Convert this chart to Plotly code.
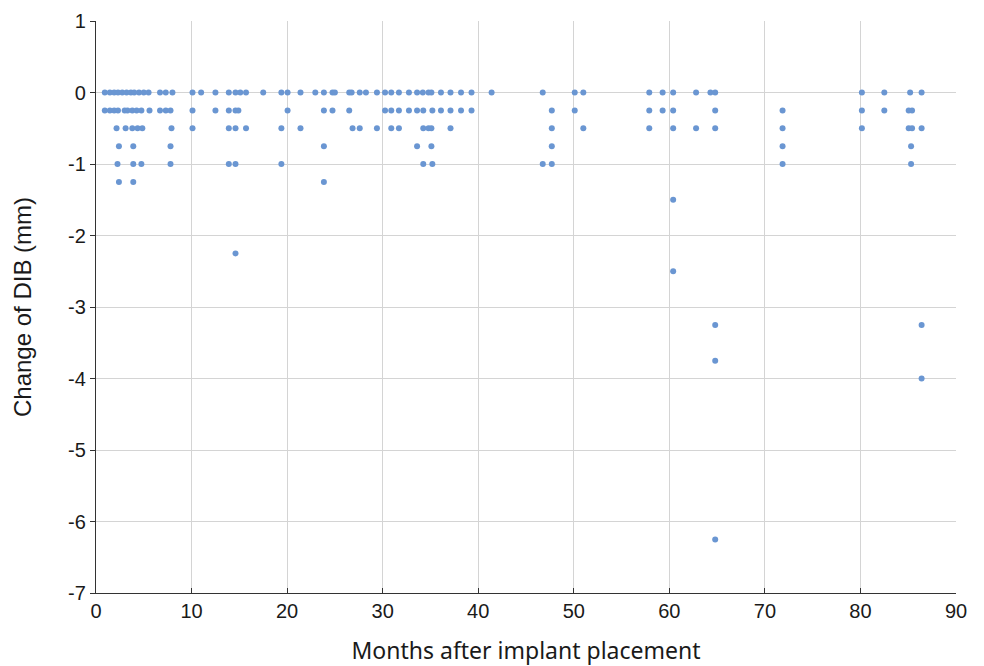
import plotly.graph_objects as go

# Months after implant placement (x) and change of DIB in mm (y)
x_row_0 = [0.92, 1.45, 1.9, 2.3, 2.75, 3.2, 3.65, 4.0, 4.5, 5.0, 5.5, 6.7, 7.3, 8.0,
           10.1, 11.0, 12.5, 13.9, 14.6, 15.1, 15.7, 17.5, 19.4, 20.05, 21.4, 22.95,
           23.85, 24.75, 25.0, 26.5, 26.75, 27.6, 28.25, 29.4, 30.25, 30.9, 31.7,
           32.75, 33.6, 34.2, 34.8, 35.1, 36.1, 37.1, 38.2, 39.3, 41.4, 46.75,
           50.1, 51.0, 57.9, 59.3, 60.4, 62.8, 64.3, 64.8, 80.15, 82.5, 85.2, 86.4]
x_row_m025 = [0.92, 1.45, 1.9, 2.3, 3.0, 3.3, 3.8, 4.25, 4.75, 5.6, 6.7, 7.3, 7.8,
              10.1, 12.5, 13.9, 14.6, 14.9, 20.05, 23.85, 24.75, 26.5, 30.25, 30.9,
              31.7, 32.75, 33.6, 34.25, 35.2, 36.1, 37.1, 38.2, 39.3, 47.7, 50.1,
              57.9, 59.3, 60.4, 64.8, 71.85, 80.15, 82.5, 85.05, 85.4]
x_row_m050 = [2.15, 3.1, 3.8, 4.35, 4.85, 7.9, 10.1, 13.9, 14.6, 15.7, 19.4, 21.4,
              26.85, 27.6, 29.4, 30.9, 31.7, 34.25, 34.8, 35.1, 37.1, 47.7, 51.0,
              57.9, 60.4, 62.8, 64.8, 71.85, 80.15, 85.05, 85.4, 86.4]
x_row_m075 = [2.4, 3.9, 7.8, 23.85, 33.6, 35.1, 47.7, 71.85, 85.3]
x_row_m100 = [2.25, 3.9, 4.75, 7.8, 13.9, 14.6, 19.4, 34.25, 35.2, 46.75, 47.7,
              71.85, 85.3]
x_row_m125 = [2.4, 3.9, 23.85]
x_outliers = [14.6, 60.4, 60.4, 64.8, 64.8, 64.8, 86.4, 86.4]
y_outliers = [-2.25, -1.5, -2.5, -3.25, -3.75, -6.25, -3.25, -4.0]

rows = [(x_row_0, 0.0), (x_row_m025, -0.25), (x_row_m050, -0.5),
        (x_row_m075, -0.75), (x_row_m100, -1.0), (x_row_m125, -1.25)]
months = []
change = []
for xs, yv in rows:
    months += xs
    change += [yv] * len(xs)
months += x_outliers
change += y_outliers

x_ticks = list(range(0, 91, 10))
y_ticks = list(range(-7, 2))

TICK_FONT = dict(size=20, family="Liberation Sans", color="#1a1a1a")

fig = go.Figure(go.Scatter(
    x=months, y=change, mode="markers",
    marker=dict(size=6, color="#6a96d2", line=dict(width=0)),
    hoverinfo="x+y",
))

# the page places the figure 8px in from the top-left corner, so it is sized to fit
fig.update_layout(
    width=976, height=658,
    margin=dict(l=88, r=28, t=13, b=73),
    paper_bgcolor="white", plot_bgcolor="white",
    showlegend=False,
    font=dict(family="Liberation Sans", color="#1a1a1a"),
)
fig.update_xaxes(
    range=[0, 90], tickvals=x_ticks, ticktext=[str(v) for v in x_ticks],
    showgrid=True, gridcolor="#d4d4d4", gridwidth=1.3,
    zeroline=False, showline=True, linecolor="#333333", linewidth=1.3,
    ticks="inside", ticklen=5, tickcolor="#333333",
    tickfont=TICK_FONT,
    title=dict(text="Months after implant placement", standoff=28,
               font=dict(size=23, family="Noto Sans", color="#1a1a1a")),
    automargin=False,
)
fig.update_yaxes(
    range=[-7, 1], tickvals=y_ticks, ticktext=[str(v) for v in y_ticks],
    showgrid=True, gridcolor="#d4d4d4", gridwidth=1.3,
    zeroline=False, showline=True, linecolor="#333333", linewidth=1.3,
    ticks="outside", ticklen=5, tickcolor="#333333",
    tickfont=TICK_FONT,
    title=dict(text="Change of DIB (mm)", standoff=29,
               font=dict(size=24, family="Liberation Sans", color="#1a1a1a")),
    automargin=False,
)

fig.write_html("out.html")
